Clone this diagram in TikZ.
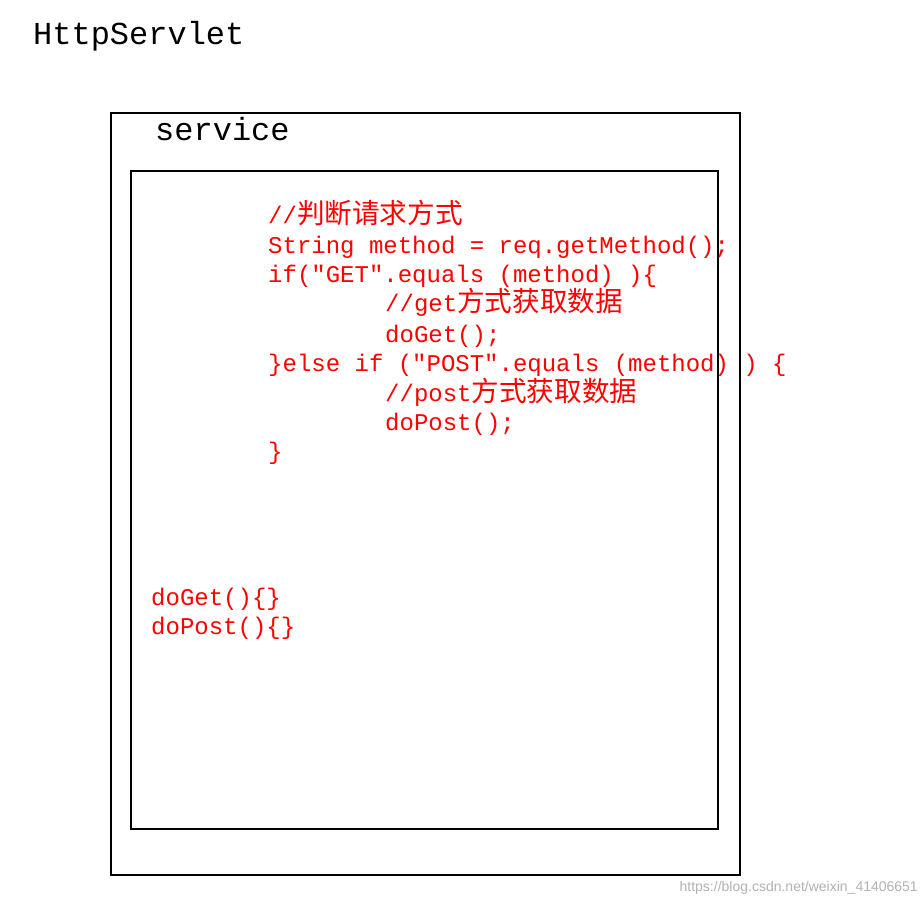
\documentclass[tikz,border=0pt]{standalone}
\usepackage{fontspec}
\setmonofont{Liberation Mono}
\newfontfamily\cjkf{Noto Sans CJK SC}[Scale=1.15]
\newfontfamily\wmf{Liberation Sans}
\newcommand{\zh}[1]{{\cjkf #1}}
\begin{document}
\begin{tikzpicture}[x=1pt,y=-1pt,
  code/.style={anchor=base west,inner sep=0pt,text=red,font=\ttfamily\fontsize{24}{24}\selectfont},
  big/.style={anchor=base west,inner sep=0pt,font=\ttfamily\fontsize{32}{32}\selectfont},
  box/.style={draw=black,line width=1.2pt}]
\useasboundingbox[fill=white] (0,0) rectangle (924,904);
\node[big] (title) at (33,45) {HttpServlet};
\draw[box] (111,113) rectangle (740,875);
\node[big] (svc) at (155,141) {service};
\draw[box] (131,171) rectangle (718,829);
\node[code] (l1) at (268,224) {//\zh{判断请求方式}};
\node[code] (l2) at (268,254) {String method = req.getMethod();};
\node[code] (l3) at (268,283) {if("GET".equals (method) )\{};
\node[code] (l4) at (385,312) {//get\zh{方式获取数据}};
\node[code] (l5) at (385,342) {doGet();};
\node[code] (l6) at (268,371) {\}else if ("POST".equals (method) ) \{};
\node[code] (l7) at (385,401) {//post\zh{方式获取数据}};
\node[code] (l8) at (385,430) {doPost();};
\node[code] (l9) at (268,459) {\}};
\node[code] (m1) at (151,605) {doGet()\{\}};
\node[code] (m2) at (151,634) {doPost()\{\}};
\node[anchor=base east,inner sep=0pt,text=gray!60,font=\wmf\fontsize{14}{14}\selectfont] (wm) at (918,891) {https://blog.csdn.net/weixin\_41406651};
\end{tikzpicture}
\end{document}
